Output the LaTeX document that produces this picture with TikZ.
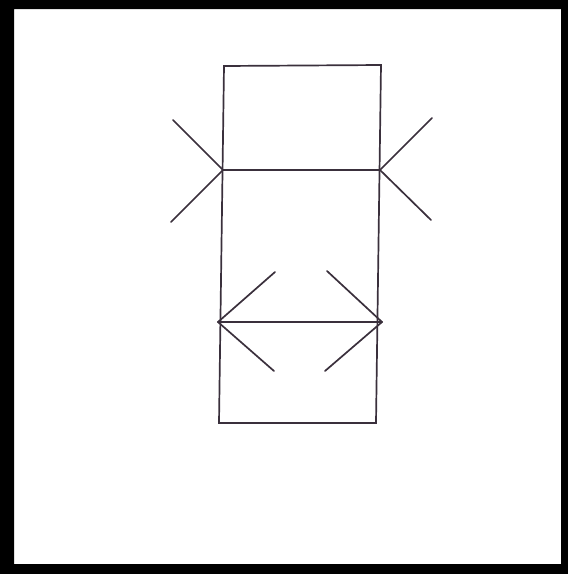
\documentclass[tikz,border=0pt]{standalone}
\usepackage{tikz}
\usetikzlibrary{calc}
\definecolor{inkline}{RGB}{58,48,60}
\tikzset{
  figline/.style={draw=inkline, line width=1.7pt, line cap=round, line join=miter},
  finline/.style={draw=inkline, line width=1.7pt, line cap=round},
  frameband/.style={fill=black, even odd rule},
}

\begin{document}
\begin{tikzpicture}[x=1pt, y=-1pt]
  \useasboundingbox (0,0) rectangle (568,574);

  % Frame
  \fill[frameband] (0,0) rectangle (568,574) (14,9) rectangle (561,564);

  % Rectangle corners
  \coordinate (tl) at (224,66);
  \coordinate (tr) at (381,65);
  \coordinate (br) at (376,423);
  \coordinate (bl) at (219,423);
  \draw[figline] (tl) -- (tr) -- (br) -- (bl) -- cycle;

  % Upper line with outward fins
  \coordinate (ul) at (223,170);
  \coordinate (ur) at (380,170);
  \draw[figline] (ul) -- (ur);
  \draw[finline] (ul) -- (173,120);
  \draw[finline] (ul) -- (171,222);
  \draw[finline] (ur) -- (432,118);
  \draw[finline] (ur) -- (431,220);

  % Lower line with inward fins
  \coordinate (ll) at (218,322);
  \coordinate (lr) at (382,322);
  \draw[figline] (ll) -- (lr);
  \draw[finline] (ll) -- (275,272);
  \draw[finline] (ll) -- (274,371);
  \draw[finline] (lr) -- (327,271);
  \draw[finline] (lr) -- (325,371);
\end{tikzpicture}
\end{document}
